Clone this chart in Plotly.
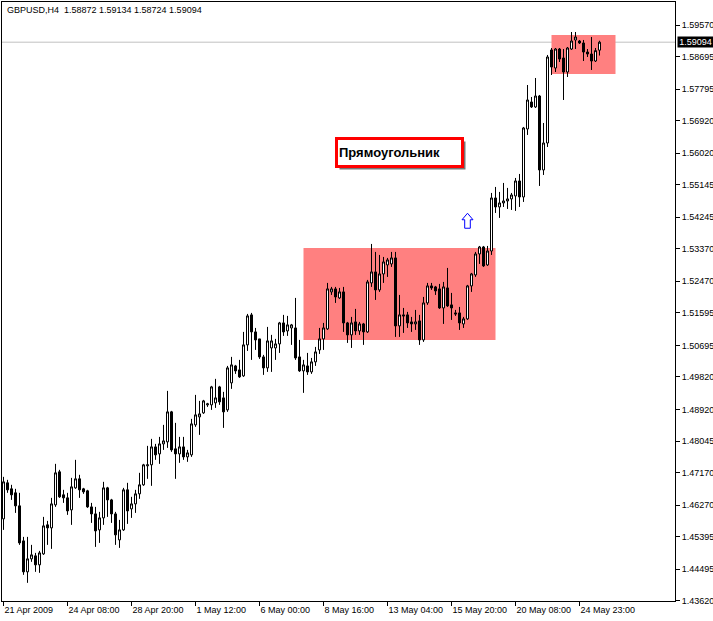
import plotly.graph_objects as go

# ---------------- data (GBPUSD, H4) ----------------
bar_index = list(range(150))

open_ = [
    1.45890, 1.46888, 1.46722, 1.46611, 1.46250, 1.45280, 1.44423, 1.44782, 1.44865, 1.44617,
    1.44920, 1.45724, 1.45640, 1.46278, 1.47193, 1.46556, 1.46472, 1.46139, 1.46749, 1.46999,
    1.46722, 1.46666, 1.46222, 1.46028, 1.45585, 1.45917, 1.46749, 1.46416, 1.46028, 1.45308,
    1.45585, 1.46694, 1.46167, 1.46305, 1.46583, 1.46833, 1.47359, 1.47387, 1.47884, 1.47690,
    1.47967, 1.48023, 1.48854, 1.47829, 1.47690, 1.47884, 1.47607, 1.47663, 1.48494, 1.48715,
    1.48826, 1.49048, 1.49048, 1.49103, 1.49546, 1.49241, 1.48909, 1.49657, 1.50127, 1.50017,
    1.49851, 1.50709, 1.51540, 1.51069, 1.50875, 1.50376, 1.50072, 1.50625, 1.50625, 1.50736,
    1.51318, 1.51096, 1.51179, 1.51179, 1.50376, 1.49989, 1.50127, 1.49961, 1.50239, 1.50570,
    1.50875, 1.51152, 1.52177, 1.52260, 1.52010, 1.52177, 1.51318, 1.50986, 1.51346, 1.51096,
    1.51290, 1.51069, 1.52426, 1.52730, 1.52232, 1.52675, 1.52924, 1.52952, 1.53118, 1.51235,
    1.51540, 1.51540, 1.51346, 1.51290, 1.51374, 1.50847, 1.51872, 1.52343, 1.52315, 1.52260,
    1.51733, 1.52287, 1.51817, 1.51595, 1.51595, 1.51290, 1.51429, 1.52343, 1.52647, 1.53228,
    1.53422, 1.52924, 1.53311, 1.54779, 1.54530, 1.54641, 1.54696, 1.54752, 1.54835, 1.55250,
    1.54807, 1.56690, 1.57438, 1.57299, 1.57604, 1.55555, 1.56302, 1.58878, 1.58379, 1.58905,
    1.58656, 1.58268, 1.58905, 1.59155, 1.59127, 1.59072, 1.58822, 1.58767, 1.58573, 1.58872,
]
high = [
    1.47054, 1.46971, 1.46833, 1.46722, 1.46611, 1.45391, 1.45391, 1.45170, 1.44948, 1.45003,
    1.45945, 1.45834, 1.46472, 1.47414, 1.47248, 1.46694, 1.46611, 1.47026, 1.47525, 1.47110,
    1.46749, 1.46694, 1.46333, 1.46222, 1.46084, 1.46916, 1.46777, 1.46444, 1.46084, 1.45862,
    1.46749, 1.46888, 1.46500, 1.46694, 1.47165, 1.47414, 1.47912, 1.48106, 1.47967, 1.48161,
    1.48494, 1.49435, 1.48881, 1.48549, 1.48161, 1.48161, 1.47801, 1.48660, 1.49324, 1.49158,
    1.49186, 1.49103, 1.49574, 1.49768, 1.49574, 1.49408, 1.50127, 1.50377, 1.50155, 1.50294,
    1.51069, 1.51567, 1.51595, 1.51179, 1.50875, 1.50432, 1.51207, 1.50986, 1.50875, 1.51346,
    1.51540, 1.51512, 1.51290, 1.52010, 1.50847, 1.50294, 1.50487, 1.50348, 1.50653, 1.51179,
    1.51318, 1.52426, 1.52315, 1.52315, 1.52287, 1.52315, 1.51346, 1.51484, 1.51706, 1.51346,
    1.51318, 1.52509, 1.53505, 1.53284, 1.53201, 1.53145, 1.53118, 1.53284, 1.53284, 1.52093,
    1.51733, 1.51623, 1.51484, 1.51678, 1.51540, 1.52038, 1.52426, 1.52426, 1.52343, 1.52398,
    1.52453, 1.52841, 1.52149, 1.51678, 1.51761, 1.51484, 1.52371, 1.52703, 1.53284, 1.53450,
    1.53450, 1.53450, 1.54918, 1.55084, 1.54946, 1.55195, 1.55057, 1.54918, 1.55333, 1.55444,
    1.56746, 1.57908, 1.57576, 1.58102, 1.57632, 1.56856, 1.58740, 1.58933, 1.58933, 1.58933,
    1.58905, 1.58961, 1.59376, 1.59376, 1.59155, 1.59155, 1.58905, 1.59238, 1.58933, 1.59134,
]
low = [
    1.45585, 1.46611, 1.46416, 1.46056, 1.45170, 1.44340, 1.44118, 1.44700, 1.44423, 1.44395,
    1.44893, 1.45170, 1.45059, 1.46222, 1.46472, 1.46333, 1.46001, 1.45724, 1.46722, 1.46472,
    1.46583, 1.46194, 1.45779, 1.45114, 1.45225, 1.45724, 1.45945, 1.45779, 1.45170, 1.45086,
    1.45557, 1.45751, 1.45917, 1.46056, 1.46445, 1.46805, 1.46999, 1.46805, 1.47525, 1.47414,
    1.47801, 1.47856, 1.47746, 1.46999, 1.47442, 1.47525, 1.47470, 1.47607, 1.48438, 1.48217,
    1.48798, 1.48992, 1.48909, 1.48964, 1.49048, 1.48410, 1.48854, 1.49491, 1.49906, 1.49795,
    1.49823, 1.50542, 1.50294, 1.50570, 1.50321, 1.49878, 1.49961, 1.49961, 1.50294, 1.50487,
    1.50958, 1.50958, 1.50709, 1.50294, 1.49961, 1.49380, 1.49878, 1.49906, 1.50127, 1.50459,
    1.50570, 1.51124, 1.52093, 1.51872, 1.51983, 1.51069, 1.50764, 1.50625, 1.50986, 1.50986,
    1.50709, 1.51041, 1.52315, 1.51955, 1.52177, 1.52426, 1.52592, 1.52869, 1.50930, 1.50930,
    1.51041, 1.51179, 1.51069, 1.51124, 1.50709, 1.50792, 1.51817, 1.52232, 1.52093, 1.51706,
    1.51290, 1.51761, 1.51401, 1.51512, 1.51124, 1.51179, 1.51401, 1.52177, 1.52592, 1.52952,
    1.52869, 1.52897, 1.53201, 1.54364, 1.54226, 1.54530, 1.54475, 1.54447, 1.54420, 1.54530,
    1.54669, 1.56524, 1.57271, 1.57271, 1.55112, 1.55416, 1.56191, 1.58185, 1.58268, 1.58545,
    1.57493, 1.58130, 1.58878, 1.58905, 1.59044, 1.58573, 1.58684, 1.58324, 1.58545, 1.58724,
]
close = [
    1.46916, 1.46694, 1.46556, 1.46250, 1.45225, 1.44423, 1.44782, 1.44893, 1.44617, 1.44948,
    1.45696, 1.45640, 1.46305, 1.47165, 1.46500, 1.46472, 1.46111, 1.46777, 1.46999, 1.46694,
    1.46639, 1.46222, 1.46028, 1.45557, 1.45917, 1.46749, 1.46416, 1.46028, 1.45447, 1.45585,
    1.46694, 1.46111, 1.46305, 1.46583, 1.46833, 1.47387, 1.47387, 1.47884, 1.47663, 1.47967,
    1.48050, 1.48854, 1.47801, 1.47690, 1.47884, 1.47607, 1.47718, 1.48521, 1.48771, 1.48798,
    1.49158, 1.49075, 1.49546, 1.49241, 1.49131, 1.48854, 1.50072, 1.50155, 1.49989, 1.49823,
    1.50709, 1.51512, 1.51069, 1.50847, 1.50376, 1.50072, 1.50819, 1.50819, 1.50736, 1.51318,
    1.51069, 1.51263, 1.51263, 1.50348, 1.49989, 1.50155, 1.49961, 1.50239, 1.50515, 1.50875,
    1.51179, 1.52260, 1.52260, 1.52038, 1.52177, 1.51318, 1.50986, 1.51318, 1.51096, 1.51290,
    1.51069, 1.52453, 1.52730, 1.52232, 1.52675, 1.53007, 1.53063, 1.53118, 1.51235, 1.51540,
    1.51512, 1.51318, 1.51290, 1.51346, 1.50847, 1.51872, 1.52343, 1.52287, 1.52204, 1.51733,
    1.52315, 1.51789, 1.51733, 1.51567, 1.51318, 1.51429, 1.52343, 1.52675, 1.53228, 1.53422,
    1.52897, 1.53311, 1.54779, 1.54530, 1.54641, 1.54696, 1.54752, 1.54862, 1.55250, 1.54807,
    1.56718, 1.57493, 1.57299, 1.57604, 1.55555, 1.56302, 1.58684, 1.58407, 1.58905, 1.58628,
    1.58268, 1.58933, 1.59127, 1.59238, 1.59072, 1.58822, 1.58767, 1.58573, 1.58860, 1.59094,
]

price_ticks = [1.59570, 1.58695, 1.57795, 1.56920, 1.56020, 1.55145, 1.54245, 1.53370, 1.52470,
               1.51595, 1.50695, 1.49820, 1.48920, 1.48045, 1.47170, 1.46270, 1.45395, 1.44495, 1.43620]
date_tick_bars = [0, 16, 32, 48, 64, 80, 96, 112, 128, 144]
date_tick_labels = ["21 Apr 2009", "24 Apr 08:00", "28 Apr 20:00", "1 May 12:00", "6 May 00:00",
                    "8 May 16:00", "13 May 04:00", "15 May 20:00", "20 May 08:00", "24 May 23:00"]

symbol_title = "GBPUSD,H4\u00a0 1.58872 1.59134 1.58724 1.59094"
bid_price = 1.59094

rect1_bars = [75, 123]
rect1_prices = [1.50847, 1.53394]
rect2_bars = [137, 153]
rect2_prices = [1.58213, 1.59292]

arrow_bar = 116
arrow_price = 1.54148

label_text = "Прямоугольник"

# ---------------- figure ----------------
FONT = "Liberation Sans, Arial"
FS = 9

fig = go.Figure()
fig.add_trace(go.Candlestick(
    x=bar_index, open=open_, high=high, low=low, close=close,
    increasing=dict(line=dict(color="black", width=1), fillcolor="white"),
    decreasing=dict(line=dict(color="black", width=1), fillcolor="black"),
    whiskerwidth=0, showlegend=False, hoverinfo="skip",
))

shapes = [
    dict(type="line", xref="paper", yref="y", x0=0, x1=1, y0=bid_price, y1=bid_price,
         line=dict(color="#C0C0C0", width=1), layer="below"),
    dict(type="rect", xref="x", yref="y", x0=rect1_bars[0], x1=rect1_bars[1],
         y0=rect1_prices[0], y1=rect1_prices[1], fillcolor="#FF8080",
         line=dict(width=0), layer="below"),
    dict(type="rect", xref="x", yref="y", x0=rect2_bars[0], x1=rect2_bars[1],
         y0=rect2_prices[0], y1=rect2_prices[1], fillcolor="#FF8080",
         line=dict(width=0), layer="below"),
    dict(type="path", xref="x", yref="y", xsizemode="pixel", ysizemode="pixel",
         xanchor=arrow_bar, yanchor=arrow_price,
         path="M0,7.5 L5.5,1 L2.8,1 L2.8,-7.5 L-2.8,-7.5 L-2.8,1 L-5.5,1 Z",
         line=dict(color="#0000FF", width=1), fillcolor="white", layer="above"),
]

annotations = [
    dict(xref="paper", yref="paper", x=0, y=1, xanchor="left", yanchor="top",
         xshift=3, yshift=-1, text=symbol_title, showarrow=False,
         font=dict(family=FONT, size=FS, color="black")),
    dict(xref="paper", yref="y", x=1, y=bid_price, xanchor="left", yanchor="middle",
         xshift=2, text=f"{bid_price:.5f}", showarrow=False, bgcolor="black",
         borderpad=0, width=35, height=10, font=dict(family=FONT, size=FS, color="white")),
    # shadow of text label
    dict(xref="paper", yref="paper", x=0.5899, y=0.7487, xanchor="center", yanchor="middle",
         xshift=3, yshift=-3, text=" ", showarrow=False, width=121, height=23,
         bgcolor="rgba(60,60,60,0.7)", bordercolor="rgba(60,60,60,0.0)",
         borderwidth=3, borderpad=1, font=dict(family=FONT, size=13)),
    dict(xref="paper", yref="paper", x=0.5899, y=0.7487, xanchor="center", yanchor="middle",
         text="<b>" + label_text + "</b>", showarrow=False, width=121, height=23,
         align="left", bgcolor="white", bordercolor="#FF0000", borderwidth=3, borderpad=1,
         font=dict(family=FONT, size=13, color="black")),
]

fig.update_layout(
    width=713, height=621,
    margin=dict(l=2, r=38, t=2, b=20, autoexpand=False),
    paper_bgcolor="white", plot_bgcolor="white",
    showlegend=False, boxgap=0.5, boxgroupgap=0,
    shapes=shapes, annotations=annotations,
    font=dict(family=FONT, size=FS, color="black"),
    xaxis=dict(
        range=[-0.375, 167.875], rangeslider=dict(visible=False),
        tickmode="array", tickvals=date_tick_bars, ticktext=date_tick_labels,
        ticks="outside", ticklen=4, tickcolor="black", tickwidth=1,
        ticklabelposition="outside right", tickangle=0, automargin=False,
        showgrid=False, zeroline=False, showline=True, mirror=True,
        linecolor="black", linewidth=1,
        tickfont=dict(family=FONT, size=FS, color="black"),
    ),
    yaxis=dict(
        side="right", range=[1.43615, 1.60207], automargin=False,
        tickmode="array", tickvals=price_ticks, ticktext=[f"{p:.5f}" for p in price_ticks],
        ticks="outside", ticklen=4, tickcolor="black", tickwidth=1,
        showgrid=False, zeroline=False, showline=True, mirror=True,
        linecolor="black", linewidth=1,
        tickfont=dict(family=FONT, size=FS, color="black"),
    ),
)

fig.write_html(
    "out.html",
    config={"displayModeBar": False},
    post_script="document.body.style.margin='0';document.body.style.padding='0';",
)
